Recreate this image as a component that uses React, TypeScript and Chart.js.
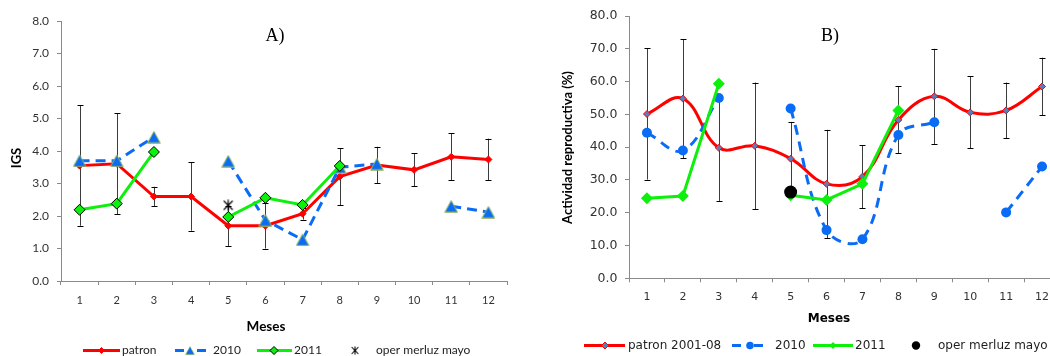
import React, { useEffect, useRef } from "react";
import { Chart, registerables } from "chart.js";

Chart.register(...registerables);

// Months on the x axis of both panels
const MESES = ["1", "2", "3", "4", "5", "6", "7", "8", "9", "10", "11", "12"];

// A) Gonadosomatic index (IGS)
const igsPatron = [3.55, 3.61, 2.6, 2.6, 1.7, 1.7, 2.07, 3.21, 3.57, 3.42, 3.82, 3.74];
const igsPatronDE = [1.85, 1.55, 0.3, 1.05, 0.62, 0.7, 0.18, 0.88, 0.56, 0.51, 0.72, 0.64];
const igs2010 = [3.7, 3.7, 4.43, null, 3.69, 1.87, 1.27, 3.5, 3.6, null, 2.3, 2.12];
const igs2011 = [2.19, 2.38, 3.97, null, 1.97, 2.56, 2.34, 3.54, null, null, null, null];
const igsOperMayo = [null, null, null, null, 2.33, null, null, null, null, null, null, null];

// B) Reproductive activity (%)
const actPatron = [50.1, 54.8, 39.8, 40.4, 36.5, 28.8, 31.0, 48.3, 55.5, 50.6, 51.2, 58.5];
const actPatronDE = [20.0, 18.2, 16.2, 19.3, 11.2, 16.5, 9.6, 10.2, 14.5, 11.0, 8.5, 8.8];
const act2010 = [44.4, 39.0, 55.0, null, 51.8, 14.7, 11.9, 43.7, 47.6, null, 20.1, 34.1];
const act2011 = [24.4, 25.1, 59.3, null, 25.3, 23.9, 28.8, 51.2, null, null, null, null];
const actOperMayo = [null, null, null, null, 26.3, null, null, null, null, null, null, null];

const RED = "#FF0000";
const BLUE = "#0A6CF5";
const GREEN = "#0CF00C";
const AXIS = "#8A8A8A";
const TXT = "#333333";

function makeMarker(w: number, h: number, draw: (ctx: CanvasRenderingContext2D) => void) {
  const c = document.createElement("canvas");
  c.width = w;
  c.height = h;
  const ctx = c.getContext("2d")!;
  draw(ctx);
  return c;
}

function drawMarker(ctx: CanvasRenderingContext2D, ds: any, x: number, y: number, r: number) {
  const style = ds.pointStyle;
  if (style instanceof HTMLCanvasElement) {
    const s = (2 * r) / style.height;
    const w = style.width * s;
    const h = style.height * s;
    ctx.drawImage(style, x - w / 2, y - h / 2, w, h);
    return;
  }
  ctx.beginPath();
  if (style === "rectRot") {
    ctx.moveTo(x, y - r);
    ctx.lineTo(x + r, y);
    ctx.lineTo(x, y + r);
    ctx.lineTo(x - r, y);
    ctx.closePath();
  } else {
    ctx.arc(x, y, r, 0, Math.PI * 2);
  }
  ctx.fillStyle = ds.pointBackgroundColor;
  ctx.fill();
  if (ds.pointBorderWidth) {
    ctx.lineWidth = ds.pointBorderWidth;
    ctx.strokeStyle = ds.pointBorderColor;
    ctx.stroke();
  }
}

// Standard-deviation whiskers for datasets carrying an `errorBars` array
const errorBarPlugin = {
  id: "errorBars",
  beforeDatasetsDraw(chart: any) {
    const { ctx } = chart;
    const y = chart.scales.y;
    chart.data.datasets.forEach((ds: any, di: number) => {
      if (!ds.errorBars) return;
      const meta = chart.getDatasetMeta(di);
      ctx.save();
      meta.data.forEach((pt: any, i: number) => {
        const v = ds.data[i];
        const e = ds.errorBars[i];
        if (v == null || e == null) return;
        const x = Math.round(pt.x) + 0.5;
        const top = y.getPixelForValue(v + e);
        const bot = y.getPixelForValue(v - e);
        ctx.strokeStyle = "#3c3c3c";
        ctx.lineWidth = 1;
        ctx.beginPath();
        ctx.moveTo(x, top);
        ctx.lineTo(x, bot);
        ctx.stroke();
        ctx.strokeStyle = "#000";
        ctx.beginPath();
        ctx.moveTo(x - 3, Math.round(top) + 0.5);
        ctx.lineTo(x + 3, Math.round(top) + 0.5);
        ctx.moveTo(x - 3, Math.round(bot) + 0.5);
        ctx.lineTo(x + 3, Math.round(bot) + 0.5);
        ctx.stroke();
      });
      ctx.restore();
    });
  },
};

type LegendEntry = { ds: number; x0?: number; x1?: number; mx: number; mr: number; tx: number; dash?: number[] };
type Overlay = {
  panel: string;
  panelX: number;
  panelY: number;
  xTitle: string;
  xTitleX: number;
  xTitleY: number;
  xTitleFont: string;
  yTitle: string;
  yTitleX: number;
  yTitleY: number;
  yTitleFont: string;
  legendY: number;
  legendFont: string;
  legend: LegendEntry[];
};

function overlayPlugin(o: Overlay) {
  return {
    id: "overlay",
    afterDraw(chart: any) {
      const ctx: CanvasRenderingContext2D = chart.ctx;
      ctx.save();
      ctx.fillStyle = "#000";
      ctx.textAlign = "center";
      ctx.textBaseline = "alphabetic";
      ctx.font = "18px 'Liberation Serif', 'Times New Roman', serif";
      ctx.fillText(o.panel, o.panelX, o.panelY);

      ctx.textBaseline = "middle";
      ctx.font = o.xTitleFont;
      ctx.fillText(o.xTitle, o.xTitleX, o.xTitleY);

      ctx.save();
      ctx.translate(o.yTitleX, o.yTitleY);
      ctx.rotate(-Math.PI / 2);
      ctx.font = o.yTitleFont;
      ctx.fillText(o.yTitle, 0, 0);
      ctx.restore();

      // legend row
      const y = o.legendY;
      ctx.font = o.legendFont;
      ctx.textAlign = "left";
      o.legend.forEach((e) => {
        const ds = chart.data.datasets[e.ds];
        if (e.x0 != null && e.x1 != null) {
          ctx.save();
          ctx.strokeStyle = ds.borderColor;
          ctx.lineWidth = ds.borderWidth;
          ctx.setLineDash(e.dash || []);
          ctx.beginPath();
          ctx.moveTo(e.x0, y);
          ctx.lineTo(e.x1, y);
          ctx.stroke();
          ctx.restore();
        }
        ctx.save();
        drawMarker(ctx, ds, e.mx, y, e.mr);
        ctx.restore();
        ctx.fillStyle = "#1e1e1e";
        ctx.fillText(ds.label, e.tx, y);
      });
      ctx.restore();
    },
  };
}

function axes(opts: {
  max: number;
  step: number;
  yWidth: number;
  xHeight: number;
  tickFont: any;
  xTickFont: any;
  yPad: number;
  xPad: number;
}) {
  return {
    x: {
      type: "category" as const,
      offset: true,
      grid: { display: true, drawOnChartArea: false, drawTicks: true, tickLength: 4, color: AXIS, offset: true },
      border: { display: true, color: AXIS, width: 1 },
      ticks: { color: TXT, font: opts.xTickFont, padding: opts.xPad, autoSkip: false, maxRotation: 0 },
      afterFit: (s: any) => {
        s.height = opts.xHeight;
      },
    },
    y: {
      min: 0,
      max: opts.max,
      grid: { display: true, drawOnChartArea: false, drawTicks: true, tickLength: 4, color: AXIS },
      border: { display: true, color: AXIS, width: 1 },
      ticks: {
        stepSize: opts.step,
        color: TXT,
        font: opts.tickFont,
        padding: opts.yPad,
        callback: (v: any) => Number(v).toFixed(1),
      },
      afterFit: (s: any) => {
        s.width = opts.yWidth;
      },
    },
  };
}

export default function App() {
  const refA = useRef<HTMLCanvasElement>(null);
  const refB = useRef<HTMLCanvasElement>(null);

  useEffect(() => {
    const triangle = makeMarker(14, 13, (ctx) => {
      ctx.beginPath();
      ctx.moveTo(7, 0.8);
      ctx.lineTo(13.3, 12.3);
      ctx.lineTo(0.7, 12.3);
      ctx.closePath();
      ctx.fillStyle = BLUE;
      ctx.fill();
      ctx.strokeStyle = "#9BBB59";
      ctx.lineWidth = 1;
      ctx.stroke();
    });
    const star = makeMarker(12, 12, (ctx) => {
      ctx.strokeStyle = "#000";
      ctx.lineWidth = 1.2;
      ctx.beginPath();
      ctx.moveTo(1.5, 1.5);
      ctx.lineTo(10.5, 10.5);
      ctx.moveTo(10.5, 1.5);
      ctx.lineTo(1.5, 10.5);
      ctx.moveTo(6, 0.5);
      ctx.lineTo(6, 11.5);
      ctx.stroke();
    });

    const lato = (size: number, weight = "normal") => ({ family: "Lato, 'Noto Sans', sans-serif", size, weight });
    const dejavu = (size: number, weight = "normal") => ({ family: "'DejaVu Sans', sans-serif", size, weight });

    const chartA = new Chart(refA.current!, {
      type: "line",
      data: {
        labels: MESES,
        datasets: [
          {
            label: "patron",
            data: igsPatron,
            errorBars: igsPatronDE,
            borderColor: RED,
            backgroundColor: RED,
            borderWidth: 3,
            pointStyle: "rectRot",
            pointRadius: 3.5,
            pointBackgroundColor: RED,
            pointBorderColor: RED,
            pointBorderWidth: 1,
            tension: 0,
            order: 4,
          } as any,
          {
            label: "2010",
            data: igs2010,
            borderColor: BLUE,
            backgroundColor: BLUE,
            borderWidth: 3,
            borderDash: [10, 6],
            pointStyle: triangle,
            pointRadius: 6.5,
            tension: 0,
            order: 3,
          },
          {
            label: "2011",
            data: igs2011,
            borderColor: GREEN,
            backgroundColor: GREEN,
            borderWidth: 3,
            pointStyle: "rectRot",
            pointRadius: 5.5,
            pointBackgroundColor: GREEN,
            pointBorderColor: "#000",
            pointBorderWidth: 1,
            tension: 0,
            order: 2,
          },
          {
            label: "oper merluz mayo",
            data: igsOperMayo,
            showLine: false,
            borderColor: "#000",
            pointStyle: star,
            pointRadius: 6,
            order: 1,
          },
        ],
      },
      options: {
        responsive: false,
        animation: false,
        layout: { padding: { left: 0, top: 21, right: 18, bottom: 0 } },
        plugins: { legend: { display: false }, tooltip: { enabled: false } },
        scales: axes({
          max: 8,
          step: 1,
          yWidth: 61,
          xHeight: 75,
          tickFont: lato(12),
          xTickFont: lato(11),
          yPad: 8,
          xPad: 8.4,
        }) as any,
      },
      plugins: [
        errorBarPlugin,
        overlayPlugin({
          panel: "A)",
          panelX: 275,
          panelY: 41,
          xTitle: "Meses",
          xTitleX: 266,
          xTitleY: 327,
          xTitleFont: "bold 13.5px Lato, sans-serif",
          yTitle: "IGS",
          yTitleX: 17,
          yTitleY: 158,
          yTitleFont: "bold 13px Lato, sans-serif",
          legendY: 350.5,
          legendFont: "12px Lato, sans-serif",
          legend: [
            { ds: 0, x0: 83, x1: 120, mx: 101.5, mr: 3, tx: 122 },
            { ds: 1, x0: 175, x1: 206, mx: 190, mr: 4.5, tx: 213, dash: [9, 13] },
            { ds: 2, x0: 257, x1: 292, mx: 274, mr: 4, tx: 294 },
            { ds: 3, mx: 355, mr: 4.5, tx: 376 },
          ],
        }),
      ],
    });

    const chartB = new Chart(refB.current!, {
      type: "line",
      data: {
        labels: MESES,
        datasets: [
          {
            label: "patron 2001-08",
            data: actPatron,
            errorBars: actPatronDE,
            borderColor: RED,
            backgroundColor: RED,
            borderWidth: 3,
            pointStyle: "rectRot",
            pointRadius: 3.5,
            pointBackgroundColor: "#5B7DB8",
            pointBorderColor: RED,
            pointBorderWidth: 1,
            tension: 0.4,
            order: 4,
          } as any,
          {
            label: "2010",
            data: act2010,
            borderColor: BLUE,
            backgroundColor: BLUE,
            borderWidth: 3,
            borderDash: [10, 7],
            pointStyle: "circle",
            pointRadius: 5,
            pointBackgroundColor: BLUE,
            pointBorderWidth: 0,
            tension: 0.4,
            order: 3,
          },
          {
            label: "2011",
            data: act2011,
            borderColor: GREEN,
            backgroundColor: GREEN,
            borderWidth: 3,
            pointStyle: "rectRot",
            pointRadius: 6,
            pointBackgroundColor: GREEN,
            pointBorderWidth: 0,
            tension: 0,
            order: 2,
          },
          {
            label: "oper merluz mayo",
            data: actOperMayo,
            showLine: false,
            borderColor: "#000",
            pointStyle: "circle",
            pointRadius: 6.5,
            pointBackgroundColor: "#000",
            pointBorderWidth: 0,
            order: 1,
          },
        ],
      },
      options: {
        responsive: false,
        animation: false,
        layout: { padding: { left: 0, top: 16, right: 10, bottom: 0 } },
        plugins: { legend: { display: false }, tooltip: { enabled: false } },
        scales: axes({
          max: 80,
          step: 10,
          yWidth: 104,
          xHeight: 77.7,
          tickFont: dejavu(12.5),
          xTickFont: dejavu(11),
          yPad: 7.5,
          xPad: 8.6,
        }) as any,
      },
      plugins: [
        errorBarPlugin,
        overlayPlugin({
          panel: "B)",
          panelX: 305,
          panelY: 41,
          xTitle: "Meses",
          xTitleX: 304,
          xTitleY: 319,
          xTitleFont: "bold 12px 'DejaVu Sans', sans-serif",
          yTitle: "Actividad reproductiva (%)",
          yTitleX: 43,
          yTitleY: 147.5,
          yTitleFont: "bold 13px Lato, sans-serif",
          legendY: 345.5,
          legendFont: "12px 'DejaVu Sans', sans-serif",
          legend: [
            { ds: 0, x0: 59, x1: 100, mx: 80, mr: 3.5, tx: 103 },
            { ds: 1, x0: 207, x1: 238, mx: 225, mr: 3.8, tx: 250, dash: [9, 13] },
            { ds: 2, x0: 288, x1: 328, mx: 308, mr: 3.5, tx: 330 },
            { ds: 3, mx: 391, mr: 4.2, tx: 413 },
          ],
        }),
      ],
    });

    return () => {
      chartA.destroy();
      chartB.destroy();
    };
  }, []);

  return (
    <div
      style={{
        position: "fixed",
        left: 0,
        top: 0,
        width: 1050,
        height: 356,
        overflow: "hidden",
        background: "#fff",
      }}
    >
      <canvas ref={refA} width={525} height={356} style={{ position: "absolute", left: 0, top: 0 }} />
      <canvas ref={refB} width={545} height={356} style={{ position: "absolute", left: 525, top: 0 }} />
    </div>
  );
}
